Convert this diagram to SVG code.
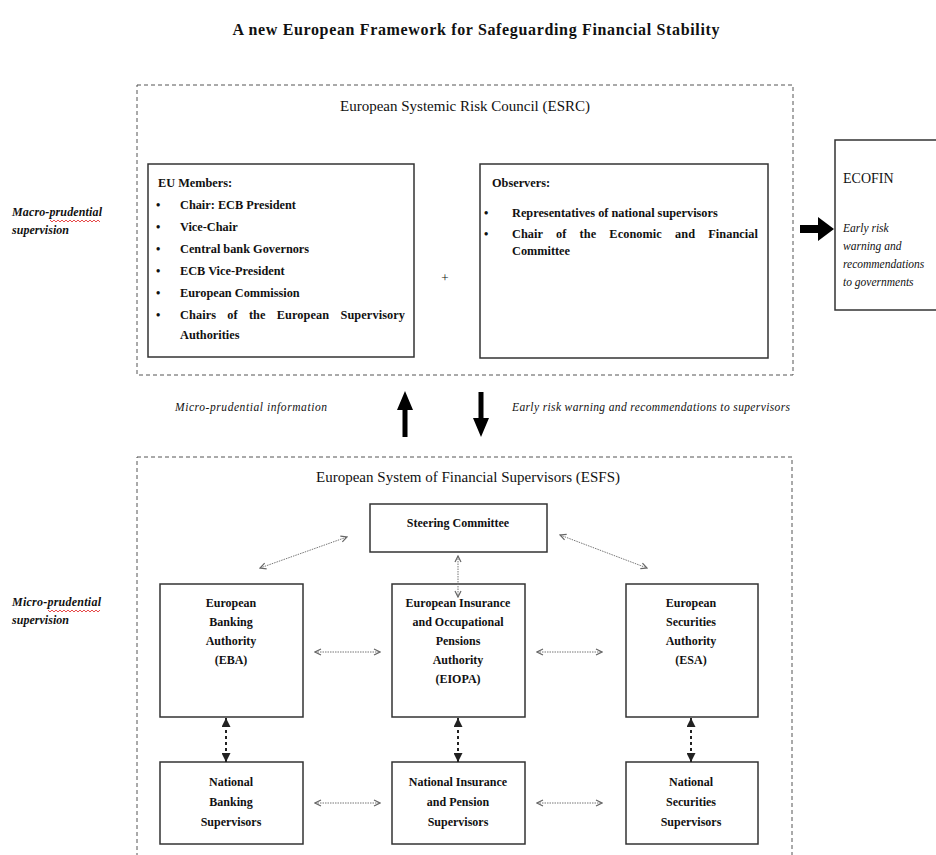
<svg xmlns="http://www.w3.org/2000/svg" width="936" height="855" viewBox="0 0 936 855">
<style>
text{font-family:"Liberation Serif","Times New Roman",serif;fill:#111}
.b{font-weight:bold}
.i{font-style:italic}
.box{fill:#fff;stroke:#333;stroke-width:1.5}
.dash{fill:none;stroke:#555;stroke-width:1;stroke-dasharray:4 3}
.n{font-size:12px;font-weight:bold;text-anchor:middle}
.m{font-size:12.3px;font-weight:bold}
.thin{fill:none;stroke:#777;stroke-width:1;stroke-dasharray:1.5 1}
.bold{fill:none;stroke:#222;stroke-width:2;stroke-dasharray:3 3}
.fat{fill:#000}
.squig{fill:none;stroke:#e02020;stroke-width:0.8}
</style>
<defs>
<marker id="chev" viewBox="0 0 8 8" refX="7" refY="4" markerWidth="8" markerHeight="8" markerUnits="userSpaceOnUse" orient="auto-start-reverse">
<path d="M1,1 L7,4 L1,7" fill="none" stroke="#666" stroke-width="1.2"/>
</marker>
<marker id="tri" viewBox="0 0 10 10" refX="10" refY="5" markerWidth="9" markerHeight="9" markerUnits="userSpaceOnUse" orient="auto-start-reverse">
<path d="M0,0 L10,5 L0,10 z" fill="#222"/>
</marker>
</defs>

<text class="b" x="476" y="35" font-size="16" text-anchor="middle" textLength="487">A new European Framework for Safeguarding Financial Stability</text>

<g id="side-labels">
<text class="b i" x="12" y="216" font-size="12" textLength="90">Macro-prudential</text>
<text class="b i" x="12" y="234" font-size="12" textLength="57">supervision</text>
<path class="squig" d="M50,220 l2,2 l2,-2 l2,2 l2,-2 l2,2 l2,-2 l2,2 l2,-2 l2,2 l2,-2 l2,2 l2,-2 l2,2 l2,-2 l2,2 l2,-2 l2,2 l2,-2 l2,2 l2,-2 l2,2 l2,-2 l2,2 l2,-2 l2,2"/>
<text class="b i" x="12" y="606" font-size="12" textLength="89">Micro-prudential</text>
<text class="b i" x="12" y="624" font-size="12" textLength="57">supervision</text>
<path class="squig" d="M48,610 l2,2 l2,-2 l2,2 l2,-2 l2,2 l2,-2 l2,2 l2,-2 l2,2 l2,-2 l2,2 l2,-2 l2,2 l2,-2 l2,2 l2,-2 l2,2 l2,-2 l2,2 l2,-2 l2,2 l2,-2 l2,2 l2,-2 l2,2 l2,-2"/>
</g>

<g id="esrc">
<rect class="dash" x="137" y="85" width="656" height="290"/>
<text x="465" y="111" font-size="15" text-anchor="middle" textLength="250">European Systemic Risk Council (ESRC)</text>
</g>

<g id="eu-members">
<rect class="box" x="148" y="164" width="266" height="193"/>
<text class="m" x="158" y="187">EU Members:</text>
<text class="m" x="156" y="209">•</text><text class="m" x="180" y="209">Chair: ECB President</text>
<text class="m" x="156" y="231">•</text><text class="m" x="180" y="231">Vice-Chair</text>
<text class="m" x="156" y="253">•</text><text class="m" x="180" y="253">Central bank Governors</text>
<text class="m" x="156" y="275">•</text><text class="m" x="180" y="275">ECB Vice-President</text>
<text class="m" x="156" y="297">•</text><text class="m" x="180" y="297">European Commission</text>
<text class="m" x="156" y="319">•</text>
<text class="m" x="180" y="319" textLength="225" lengthAdjust="spacing" word-spacing="8">Chairs of the European Supervisory</text>
<text class="m" x="180" y="339">Authorities</text>
</g>

<text x="445" y="282" font-size="13" text-anchor="middle" fill="#222">+</text>

<g id="observers">
<rect class="box" x="480" y="164" width="288" height="194"/>
<text class="m" x="492" y="187">Observers:</text>
<text class="m" x="484" y="217">•</text><text class="m" x="512" y="217">Representatives of national supervisors</text>
<text class="m" x="484" y="238">•</text>
<text class="m" x="512" y="238" textLength="246" lengthAdjust="spacing" word-spacing="10">Chair of the Economic and Financial</text>
<text class="m" x="512" y="255">Committee</text>
</g>

<g id="ecofin">
<rect class="box" x="835" y="140" width="110" height="170"/>
<text x="843" y="183" font-size="14">ECOFIN</text>
<text class="i" x="843" y="232" font-size="11.5">Early risk</text>
<text class="i" x="843" y="250" font-size="11.5">warning and</text>
<text class="i" x="843" y="268" font-size="11.5">recommendations</text>
<text class="i" x="843" y="286" font-size="11.5">to governments</text>
</g>

<g id="between-labels">
<text class="i" x="175" y="411" font-size="11.5" textLength="152">Micro-prudential information</text>
<text class="i" x="512" y="411" font-size="11.5" textLength="278">Early risk warning and recommendations to supervisors</text>
</g>

<g id="esfs">
<rect class="dash" x="137" y="457" width="655" height="420"/>
<text x="468" y="482" font-size="15" text-anchor="middle" textLength="304">European System of Financial Supervisors (ESFS)</text>
</g>

<g id="steering">
<rect class="box" x="370" y="504" width="177" height="48"/>
<text class="n" x="458" y="527">Steering Committee</text>
</g>

<g id="eba">
<rect class="box" x="160" y="584" width="143" height="133"/>
<text class="n" x="231" y="607">European</text>
<text class="n" x="231" y="626">Banking</text>
<text class="n" x="231" y="645">Authority</text>
<text class="n" x="231" y="664">(EBA)</text>
</g>

<g id="eiopa">
<rect class="box" x="392" y="584" width="133" height="133"/>
<text class="n" x="458" y="607">European Insurance</text>
<text class="n" x="458" y="626">and Occupational</text>
<text class="n" x="458" y="645">Pensions</text>
<text class="n" x="458" y="664">Authority</text>
<text class="n" x="458" y="683">(EIOPA)</text>
</g>

<g id="esa">
<rect class="box" x="626" y="584" width="132" height="133"/>
<text class="n" x="691" y="607">European</text>
<text class="n" x="691" y="626">Securities</text>
<text class="n" x="691" y="645">Authority</text>
<text class="n" x="691" y="664">(ESA)</text>
</g>

<g id="nbs">
<rect class="box" x="160" y="762" width="143" height="82"/>
<text class="n" x="231" y="786">National</text>
<text class="n" x="231" y="806">Banking</text>
<text class="n" x="231" y="826">Supervisors</text>
</g>

<g id="nips">
<rect class="box" x="392" y="762" width="133" height="82"/>
<text class="n" x="458" y="786">National Insurance</text>
<text class="n" x="458" y="806">and Pension</text>
<text class="n" x="458" y="826">Supervisors</text>
</g>

<g id="nss">
<rect class="box" x="626" y="762" width="132" height="82"/>
<text class="n" x="691" y="786">National</text>
<text class="n" x="691" y="806">Securities</text>
<text class="n" x="691" y="826">Supervisors</text>
</g>

<g id="connectors">
<path class="fat" d="M800,225 L818,225 L818,217 L834,229 L818,241 L818,233 L800,233 z"/>
<path class="fat" d="M402.5,437 L402.5,410 L397,410 L405,391 L413,410 L407.5,410 L407.5,437 z"/>
<path class="fat" d="M478.5,392 L478.5,418 L473,418 L481,437 L489,418 L483.5,418 L483.5,392 z"/>
<line class="thin" x1="260" y1="568" x2="347" y2="537" marker-start="url(#chev)" marker-end="url(#chev)"/>
<line class="thin" x1="560" y1="535" x2="647" y2="568" marker-start="url(#chev)" marker-end="url(#chev)"/>
<line class="thin" x1="458" y1="556" x2="458" y2="597" marker-start="url(#chev)" marker-end="url(#chev)"/>
<line class="thin" x1="315" y1="652" x2="380" y2="652" marker-start="url(#chev)" marker-end="url(#chev)"/>
<line class="thin" x1="537" y1="652" x2="602" y2="652" marker-start="url(#chev)" marker-end="url(#chev)"/>
<line class="thin" x1="315" y1="803" x2="380" y2="803" marker-start="url(#chev)" marker-end="url(#chev)"/>
<line class="thin" x1="537" y1="803" x2="602" y2="803" marker-start="url(#chev)" marker-end="url(#chev)"/>
<line class="bold" x1="226" y1="718" x2="226" y2="762" marker-start="url(#tri)" marker-end="url(#tri)"/>
<line class="bold" x1="458" y1="718" x2="458" y2="762" marker-start="url(#tri)" marker-end="url(#tri)"/>
<line class="bold" x1="691" y1="718" x2="691" y2="762" marker-start="url(#tri)" marker-end="url(#tri)"/>
</g>
</svg>
